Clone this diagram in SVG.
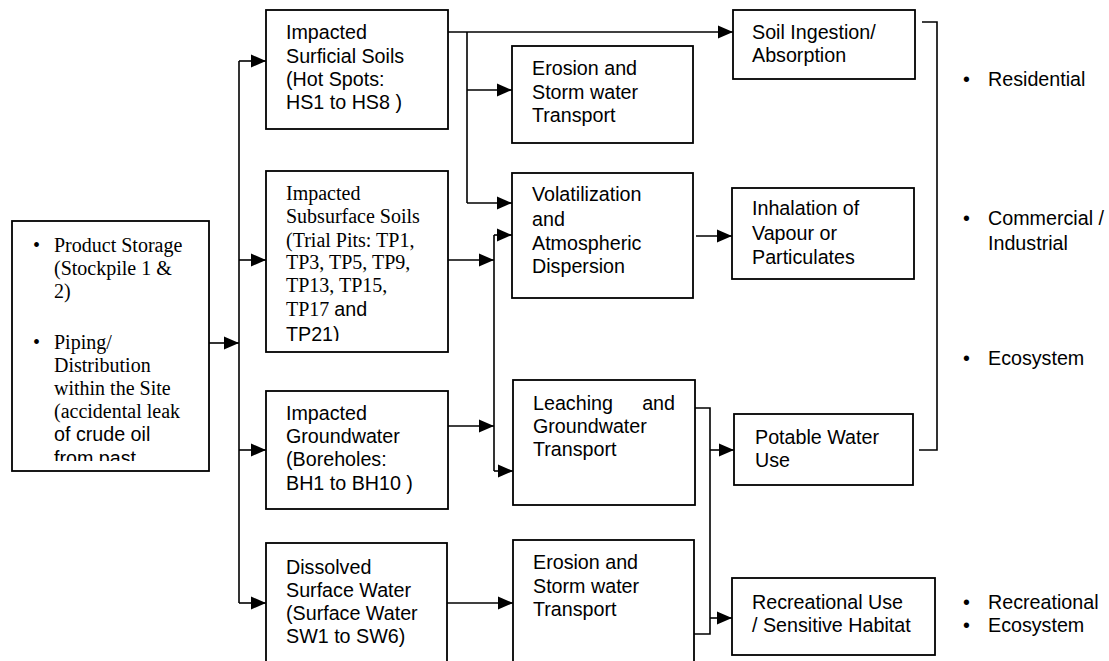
<svg xmlns="http://www.w3.org/2000/svg" width="1109" height="661" viewBox="0 0 1109 661">
<style>
.box{fill:#fff;stroke:#000;stroke-width:1.8}
.ln{fill:none;stroke:#000;stroke-width:1.6}
.ar{fill:none;stroke:#000;stroke-width:1.6;marker-end:url(#ah)}
.a{font-family:"Liberation Sans",Arial,sans-serif;font-size:19.7px;fill:#000}
.t{font-family:"Liberation Serif","Times New Roman",serif;font-size:20px;fill:#000}
</style>
<defs>
<marker id="ah" markerUnits="userSpaceOnUse" markerWidth="15" markerHeight="13" refX="15" refY="6.5" orient="auto" overflow="visible">
<path d="M0,0 L15,6.5 L0,13 z" fill="#000"/>
</marker>
<clipPath id="cL"><rect x="12" y="221" width="197" height="240"/></clipPath>
<clipPath id="c2"><rect x="266" y="171" width="182" height="170"/></clipPath>
</defs>
<rect width="1109" height="661" fill="#fff"/>

<g id="connectors">
<path class="ar" d="M209,343 H239"/>
<path class="ln" d="M239,61 V603"/>
<path class="ar" d="M239,61 H266"/>
<path class="ar" d="M239,260 H266"/>
<path class="ar" d="M239,450 H266"/>
<path class="ar" d="M239,603 H266"/>
<path class="ar" d="M448,32 H733"/>
<path class="ln" d="M467,32 V203"/>
<path class="ar" d="M467,90 H512"/>
<path class="ar" d="M467,203 H512"/>
<path class="ar" d="M448,260 H494"/>
<path class="ar" d="M448,426 H494"/>
<path class="ln" d="M494,235 V471"/>
<path class="ar" d="M494,235 H512"/>
<path class="ar" d="M494,471 H513"/>
<path class="ar" d="M696,236 H732"/>
<path class="ln" d="M695,408 H710 V634 H694"/>
<path class="ar" d="M710,450 H734"/>
<path class="ar" d="M710,618 H732"/>
<path class="ar" d="M447,603 H513"/>
<path class="ln" d="M922,22 H937 V450 H919"/>
</g>

<g id="source">
<rect class="box" x="12" y="221" width="197" height="250"/>
<g clip-path="url(#cL)">
<text class="t" x="33" y="252">•</text>
<text class="t" x="54" y="252">Product Storage</text>
<text class="t" x="54" y="275">(Stockpile 1 &amp;</text>
<text class="t" x="54" y="298">2)</text>
<text class="t" x="33" y="349">•</text>
<text class="t" x="54" y="349">Piping/</text>
<text class="t" x="54" y="372">Distribution</text>
<text class="t" x="54" y="395">within the Site</text>
<text class="t" x="54" y="418">(accidental leak</text>
<text class="a" x="54" y="441">of crude oil</text>
<text class="a" x="54" y="465">from past</text>
</g>
</g>

<g id="surficial">
<rect class="box" x="266" y="10" width="182" height="119"/>
<text class="a" x="286" y="39">Impacted</text>
<text class="a" x="286" y="63">Surficial Soils</text>
<text class="a" x="286" y="86">(Hot Spots:</text>
<text class="a" x="286" y="109">HS1 to HS8 )</text>
</g>

<g id="subsurface">
<rect class="box" x="266" y="171" width="182" height="181"/>
<g clip-path="url(#c2)">
<text class="t" x="286" y="200">Impacted</text>
<text class="t" x="286" y="223">Subsurface Soils</text>
<text class="t" x="286" y="247">(Trial Pits: TP1,</text>
<text class="t" x="286" y="269">TP3, TP5, TP9,</text>
<text class="t" x="286" y="292">TP13, TP15,</text>
<text x="286" y="316"><tspan class="t">TP17 </tspan><tspan class="a">and</tspan></text>
<text class="a" x="286" y="341">TP21)</text>
</g>
</g>

<g id="groundwater">
<rect class="box" x="266" y="391" width="182" height="118"/>
<text class="a" x="286" y="420">Impacted</text>
<text class="a" x="286" y="443">Groundwater</text>
<text class="a" x="286" y="466">(Boreholes:</text>
<text class="a" x="286" y="490">BH1 to BH10 )</text>
</g>

<g id="surfacewater">
<rect class="box" x="266" y="543" width="181" height="140"/>
<text class="a" x="286" y="574">Dissolved</text>
<text class="a" x="286" y="597">Surface Water</text>
<text class="a" x="286" y="620">(Surface Water</text>
<text class="a" x="286" y="643">SW1 to SW6)</text>
</g>

<g id="erosion1">
<rect class="box" x="512" y="46" width="181" height="97"/>
<text class="a" x="532" y="75">Erosion and</text>
<text class="a" x="532" y="99">Storm water</text>
<text class="a" x="532" y="122">Transport</text>
</g>

<g id="volatilization">
<rect class="box" x="512" y="173" width="181" height="125"/>
<text class="a" x="532" y="201">Volatilization</text>
<text class="a" x="532" y="226">and</text>
<text class="a" x="532" y="250">Atmospheric</text>
<text class="a" x="532" y="273">Dispersion</text>
</g>

<g id="leaching">
<rect class="box" x="513" y="380" width="182" height="125"/>
<text class="a" x="533" y="410">Leaching</text>
<text class="a" x="675" y="410" text-anchor="end">and</text>
<text class="a" x="533" y="433">Groundwater</text>
<text class="a" x="533" y="456">Transport</text>
</g>

<g id="erosion2">
<rect class="box" x="513" y="540" width="181" height="140"/>
<text class="a" x="533" y="569">Erosion and</text>
<text class="a" x="533" y="593">Storm water</text>
<text class="a" x="533" y="616">Transport</text>
</g>

<g id="soilingestion">
<rect class="box" x="733" y="10" width="182" height="69"/>
<text class="a" x="752" y="39">Soil Ingestion/</text>
<text class="a" x="752" y="62">Absorption</text>
</g>

<g id="inhalation">
<rect class="box" x="732" y="188" width="182" height="91"/>
<text class="a" x="752" y="215">Inhalation of</text>
<text class="a" x="752" y="240">Vapour or</text>
<text class="a" x="752" y="264">Particulates</text>
</g>

<g id="potable">
<rect class="box" x="734" y="414" width="179" height="71"/>
<text class="a" x="755" y="444">Potable Water</text>
<text class="a" x="755" y="467">Use</text>
</g>

<g id="recreational">
<rect class="box" x="732" y="578" width="203" height="77"/>
<text class="a" x="752" y="609">Recreational Use</text>
<text class="a" x="752" y="632">/ Sensitive Habitat</text>
</g>

<g id="receptors">
<text class="a" x="963" y="86">•</text>
<text class="a" x="988" y="86">Residential</text>
<text class="a" x="963" y="225">•</text>
<text class="a" x="988" y="225">Commercial /</text>
<text class="a" x="988" y="250">Industrial</text>
<text class="a" x="963" y="365">•</text>
<text class="a" x="988" y="365">Ecosystem</text>
<text class="a" x="963" y="609">•</text>
<text class="a" x="988" y="609">Recreational</text>
<text class="a" x="963" y="632">•</text>
<text class="a" x="988" y="632">Ecosystem</text>
</g>
</svg>
